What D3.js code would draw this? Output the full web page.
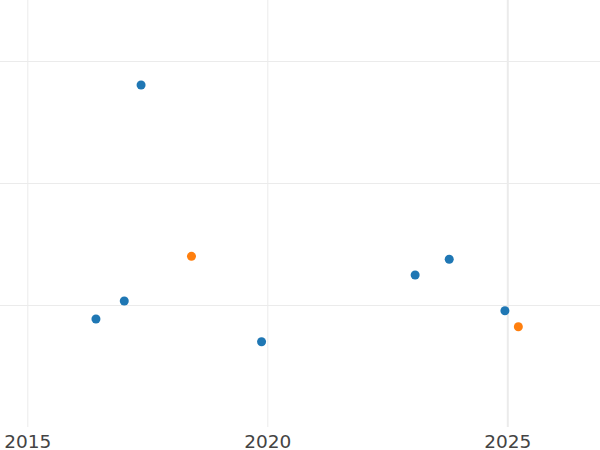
<!DOCTYPE html>
<html>
<head>
<meta charset="utf-8">
<script src="https://cdn.jsdelivr.net/npm/d3@7"></script>
<style>
  html, body { margin: 0; padding: 0; background: #fff; }
  svg { display: block; }
</style>
</head>
<body>
<script>
// Data
const years   = [2016.43, 2017.02, 2017.37, 2018.42, 2019.88, 2023.08, 2023.79, 2024.95, 2025.23];
const values  = [0.885,   1.033,   2.803,   1.399,   0.699,   1.246,   1.375,   0.953,   0.822];
const groups  = ["A",     "A",     "A",     "B",     "A",     "A",     "A",     "A",     "B"];
const groupNames  = ["A", "B"];
const groupColors = ["#1f77b4", "#ff7f0e"];
const xTickValues = [2015, 2020, 2025];
const yTickValues = [1, 2, 3];
const highlightYear = 2025;

const W = 600, H = 450;
const plotBottom = 427;

const svg = d3.select("body").append("svg").attr("width", W).attr("height", H);

const x = d3.scaleLinear().domain([2014.431, 2026.931]).range([0, W]);
const y = d3.scaleLinear().domain([0, 3.5]).range([plotBottom, 0]);
const color = d3.scaleOrdinal().domain(groupNames).range(groupColors);

// horizontal gridlines
svg.append("g").selectAll("line").data(yTickValues).join("line")
  .attr("x1", 0).attr("x2", W)
  .attr("y1", d => Math.round(y(d)) + 0.5).attr("y2", d => Math.round(y(d)) + 0.5)
  .attr("stroke", "#ebebeb").attr("stroke-width", 1);

// x axis with vertical gridlines
const xAxis = d3.axisBottom(x).tickValues(xTickValues).tickFormat(d3.format("d"))
  .tickSize(plotBottom).tickPadding(8);
const gx = svg.append("g").attr("transform", "translate(0,0)").call(xAxis);
gx.select(".domain").remove();
gx.selectAll(".tick line")
  .attr("stroke", "#ebebeb")
  .attr("stroke-width", d => d === highlightYear ? 2 : 1);
gx.selectAll(".tick text")
  .attr("font-family", "DejaVu Sans, sans-serif")
  .attr("font-size", 18.5)
  .attr("fill", "#444")
  .attr("dy", "0.71em");

// points
const data = years.map((yr, i) => ({ yr, v: values[i], g: groups[i] }));
svg.append("g").selectAll("circle").data(data).join("circle")
  .attr("cx", d => x(d.yr))
  .attr("cy", d => y(d.v))
  .attr("r", 4.5)
  .attr("fill", d => color(d.g));
</script>
</body>
</html>
